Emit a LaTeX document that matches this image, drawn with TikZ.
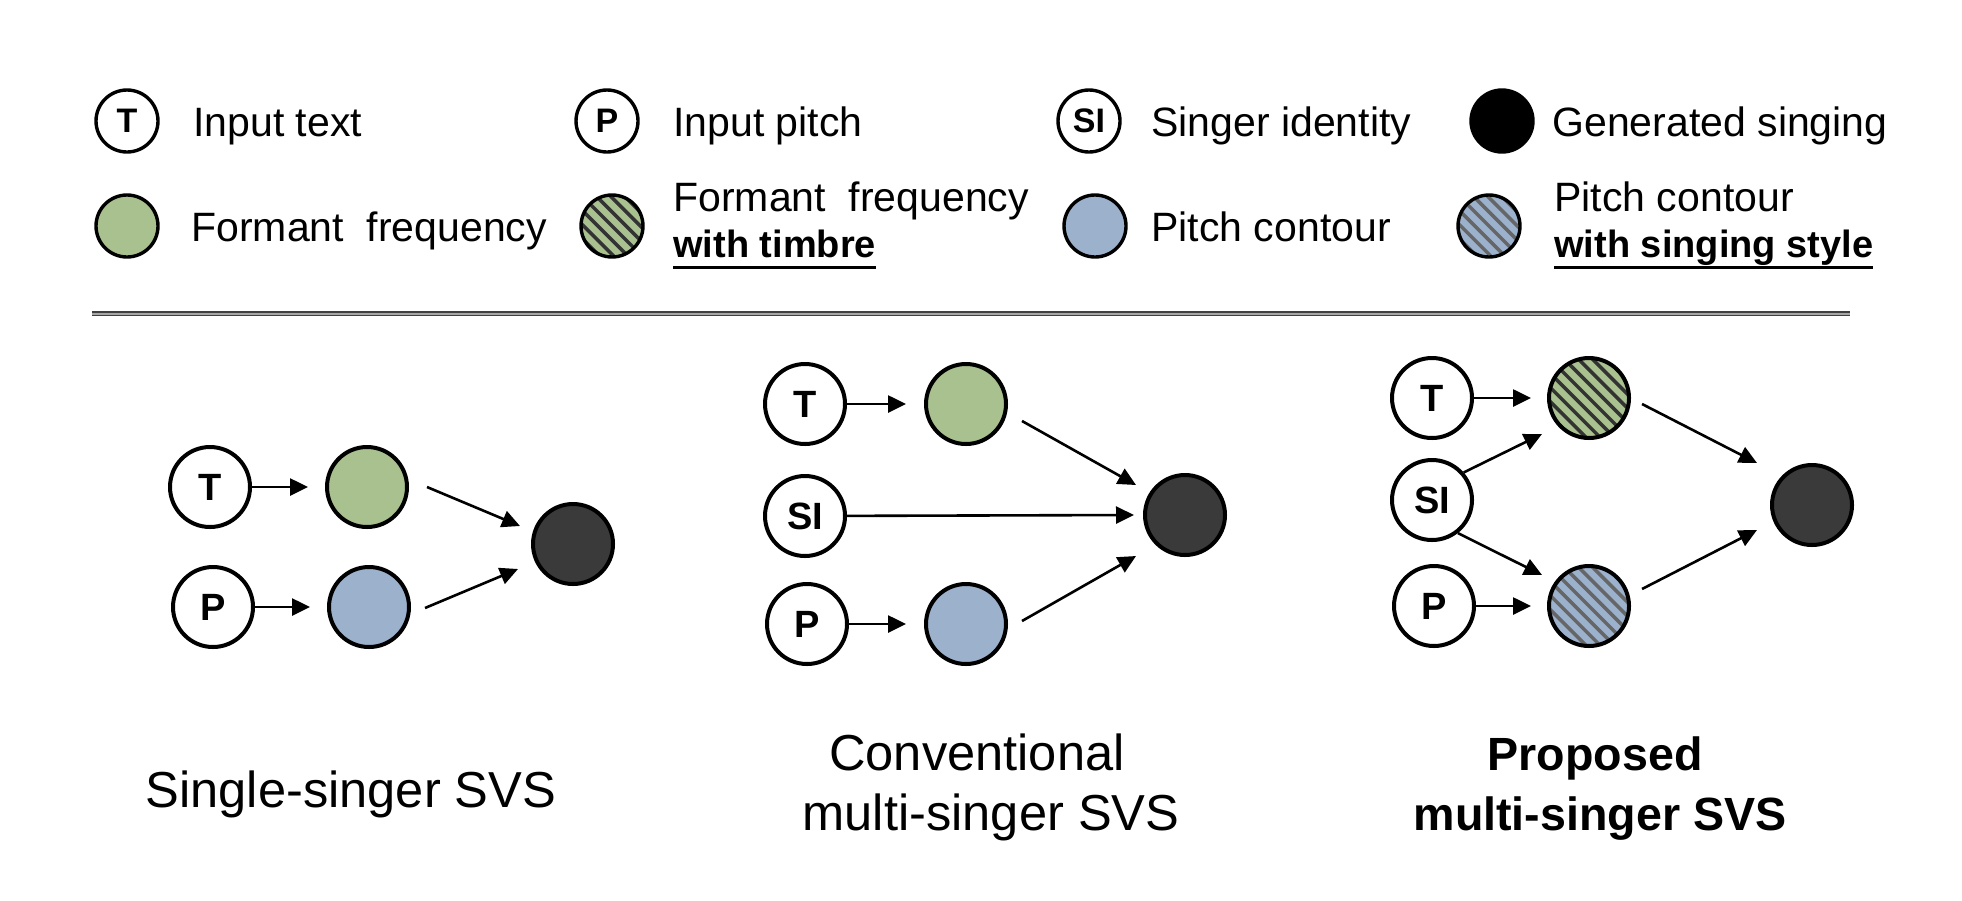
\documentclass[tikz,border=0pt]{standalone}
\usepackage{fontspec}
\setmainfont{Liberation Sans}
\usepackage{tikz}
\usetikzlibrary{arrows.meta,calc,positioning}
\definecolor{fgreen}{RGB}{169,193,143}
\definecolor{pblue}{RGB}{155,177,204}
\definecolor{outgray}{RGB}{58,58,58}
\definecolor{rulegray}{RGB}{64,64,64}
\newsavebox\ulsave
\newcommand{\ulbf}[1]{\sbox\ulsave{#1}\rlap{\rule[-6.2pt]{\wd\ulsave}{1.5pt}}\usebox\ulsave}
\tikzset{
  big/.style={circle,draw,line width=2pt,minimum size=40pt,inner sep=0pt},
  small/.style={circle,draw,line width=1.7pt,minimum size=31pt,inner sep=0pt},
  inp/.style={fill=white,font=\fontsize{19}{19}\selectfont\bfseries},
  sinp/.style={fill=white,font=\fontsize{17}{17}\selectfont\bfseries},
  fmt/.style={fill=fgreen},
  pit/.style={fill=pblue},
  outp/.style={fill=outgray},
  hatch/.style={path picture={\foreach \k in {-5,...,5}
      \draw[line width=1.75pt,#1]([xshift=\k*7.07pt-30pt,yshift=30pt]path picture bounding box.center)--++(60pt,-60pt);}},
  arr/.style={-{Triangle[length=9pt,width=8.5pt]},line width=1.3pt},
  lbl/.style={anchor=base west,inner sep=0pt,font=\fontsize{20.5}{23}\selectfont},
  lblb/.style={anchor=base west,inner sep=0pt,font=\fontsize{19}{23}\selectfont\bfseries},
  ttl/.style={anchor=base,inner sep=0pt,font=\fontsize{25.3}{30}\selectfont},
  ttlb/.style={anchor=base,inner sep=0pt,font=\fontsize{23.3}{30}\selectfont\bfseries},
}
\begin{document}
\begin{tikzpicture}[x=0.5pt,y=-0.5pt]
\useasboundingbox (0,0) rectangle (1962,900);
% legend
\node[small,sinp](lt)at(127,121){T};
\node[lbl](ltx)at(193,136){Input text};
\node[small,sinp](lp)at(607,121){P};
\node[lbl](lpx)at(673,136){Input pitch};
\node[small,sinp](ls)at(1089,121){SI};
\node[lbl](lsx)at(1151,136){Singer identity};
\node[small,fill=black](lo)at(1502,121){};
\node[lbl](lox)at(1552,136){Generated singing};
\node[small,fmt](lf)at(127,226){};
\node[lbl](lfx)at(191,241){Formant\ \ frequency};
\node[small,fmt,hatch=black!80](lg)at(612,226){};
\node[lbl](lgx)at(673,211){Formant\ \ frequency};
\node[lblb](lgy)at(673,257){\ulbf{with timbre}};
\node[small,pit](lc)at(1095,226){};
\node[lbl](lcx)at(1151,241){Pitch contour};
\node[small,pit,hatch=black!60](lb)at(1489,226){};
\node[lbl](lbx)at(1554,211){Pitch contour};
\node[lblb](lby)at(1554,257){\ulbf{with singing style}};
\draw[draw=rulegray,line width=0.8pt,double=black!35,double distance=1pt](92,313.5)--(1850,313.5);
% single-singer
\node[big,inp](t1)at(210,487){T};
\node[big,fmt](f1)at(367,487){};
\node[big,inp](p1)at(213,607){P};
\node[big,pit](c1)at(369,607){};
\node[big,outp](o1)at(573,544){};
\draw[arr](t1)--($(f1.west)+(-17,0)$);
\draw[arr](p1)--($(c1.west)+(-17,0)$);
\draw[arr]($(f1.center)+(60,0)$)--($(o1.center)+(-53,-18)$);
\draw[arr]($(c1.center)+(56,1)$)--($(o1.center)+(-55,25)$);
\node[ttl](n1)at(351,807){Single-singer SVS};
% conventional multi-singer
\node[big,inp](t2)at(805,404){T};
\node[big,fmt](f2)at(966,404){};
\node[big,inp](s2)at(805,516){SI};
\node[big,inp](p2)at(807,624){P};
\node[big,pit](c2)at(966,624){};
\node[big,outp](o2)at(1185,515){};
\draw[arr](t2)--($(f2.west)+(-18,0)$);
\draw[arr](s2)--($(o2.west)+(-9,0)$);
\draw[arr](p2)--($(c2.west)+(-18,0)$);
\draw[arr]($(f2.center)+(56,17)$)--($(o2.center)+(-49,-30)$);
\draw[arr]($(c2.center)+(56,-3)$)--($(o2.center)+(-49,41)$);
\node[ttl](n2a)at(977,770){Conventional};
\node[ttl](n2b)at(991,830){multi-singer SVS};
% proposed multi-singer
\node[big,inp](t3)at(1432,398){T};
\node[big,fmt,hatch=black!80](g3)at(1589,398){};
\node[big,inp](s3)at(1432,500){SI};
\node[big,inp](p3)at(1434,606){P};
\node[big,pit,hatch=black!60](b3)at(1589,606){};
\node[big,outp](o3)at(1812,505){};
\draw[arr](t3)--($(g3.west)+(-16,0)$);
\draw[arr](p3)--($(b3.west)+(-16,0)$);
\draw[arr](s3.41)--($(g3.center)+(-47,36)$);
\draw[arr](s3.-52)--($(b3.center)+(-47,-31)$);
\draw[arr]($(g3.center)+(53,6)$)--($(o3.center)+(-55,-42)$);
\draw[arr]($(b3.center)+(53,-17)$)--($(o3.center)+(-55,25)$);
\node[ttlb](n3a)at(1595,770){Proposed};
\node[ttlb](n3b)at(1600,830){multi-singer SVS};
\end{tikzpicture}
\end{document}
